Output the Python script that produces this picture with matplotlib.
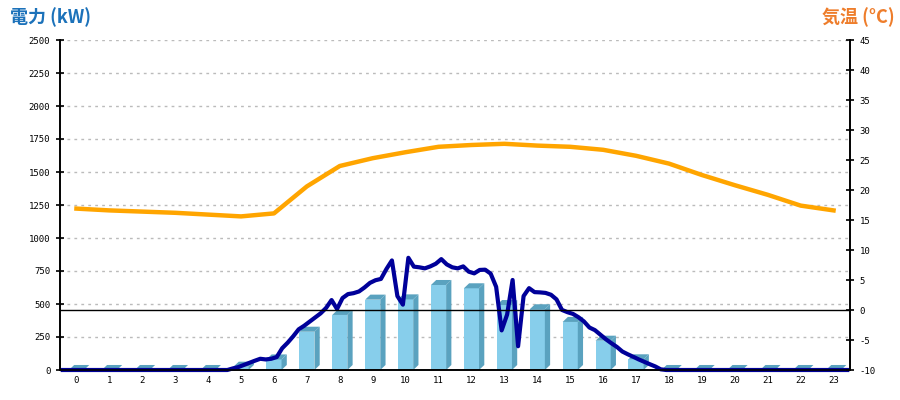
import numpy as np
import matplotlib
matplotlib.use("Agg")
import matplotlib.pyplot as plt
from matplotlib.patches import Polygon

plt.rcParams['axes.unicode_minus'] = False

# hourly categories
hours = list(range(24))
hour_labels = [str(h) for h in hours]

# hourly generation (kW), drawn as 3D bars
power_hourly = [0, 0, 0, 0, 0, 25, 80, 290, 417, 533, 535, 644, 619, 492, 460, 364, 222, 81,
                0, 0, 0, 0, 0, 0]

# hourly temperature (deg C)
temp_hourly = [16.9, 16.6, 16.4, 16.2, 15.9, 15.6, 16.1, 20.6, 24.0, 25.3, 26.3, 27.2,
               27.5, 27.7, 27.4, 27.2, 26.7, 25.7, 24.4, 22.5, 20.8, 19.2, 17.4, 16.6]

# 10-minute generation (kW), 144 samples
power_10min = [0] * 30 + [
    0, 12, 22, 38, 54, 70, 85, 80, 85, 98,
    165, 207, 255, 308, 335, 366, 396, 429, 470, 530,
    462, 545, 575, 582, 595, 625, 660, 680, 690, 765,
    830, 560, 495, 850, 783, 778, 770, 785, 805, 840,
    800, 778, 770, 785, 745, 732, 758, 760, 730, 630,
    300, 420, 682, 180, 560, 620, 590, 588, 584, 570,
    535, 455, 438, 425, 400, 368, 322, 302, 268, 233,
    203, 175, 140, 119, 100, 80, 62, 44, 27, 5,
] + [0] * 34
x_10min = np.arange(len(power_10min)) / 6.0 - 0.5 + 1 / 12

fig = plt.figure(figsize=(9, 4), dpi=100)
ax = fig.add_axes([60 / 900, 30 / 400, 790 / 900, 330 / 400])
ax2 = ax.twinx()

front = '#87CEEB'
shade = '#5AA2BF'
w = 0.46
dx = 0.16
dy = 38

for h, v in zip(hours, power_hourly):
    ax.bar(h, v, width=w, color=front, linewidth=0, zorder=2)
    r = h + w / 2
    l = h - w / 2
    ax.add_patch(Polygon([(r, 0), (r + dx, dy), (r + dx, v + dy), (r, v)],
                         closed=True, facecolor=shade, edgecolor='none', zorder=2))
    ax.add_patch(Polygon([(l, v), (r, v), (r + dx, v + dy), (l + dx, v + dy)],
                         closed=True, facecolor=shade, edgecolor='none', zorder=2))

ax.plot(x_10min, power_10min, color='#000099', lw=3.0, zorder=4, clip_on=False,
        solid_joinstyle='round')

ax2.plot(hours, temp_hourly, color='#FFA500', lw=3.2, zorder=3)
ax2.axhline(0, color='black', lw=1, zorder=2)

ax.set_xlim(-0.5, 23.5)
ax.set_ylim(0, 2500)
ax2.set_ylim(-10, 45)
ax.set_yticks(np.arange(0, 2501, 250))
ax2.set_yticks(np.arange(-10, 46, 5))
ax.set_xticks(hours)
ax.set_xticklabels(hour_labels)

ax.yaxis.grid(True, color='#BBBBBB', linestyle=(0, (2, 3)), lw=1)
ax.set_axisbelow(True)

for a in (ax, ax2):
    a.spines['top'].set_visible(False)
    a.spines['left'].set_linewidth(1.2)
    a.spines['right'].set_linewidth(1.2)
    a.spines['bottom'].set_linewidth(1.2)

ax.tick_params(axis='y', direction='inout', length=6, width=1.2, pad=4,
               labelsize=6.5, labelfontfamily='DejaVu Sans Mono')
ax2.tick_params(axis='y', direction='inout', length=6, width=1.2, pad=4,
                labelsize=6.5, labelfontfamily='DejaVu Sans Mono')
ax.tick_params(axis='x', length=0, pad=4, labelsize=6.5,
               labelfontfamily='DejaVu Sans Mono')

fig.text(10 / 900, 1 - 17 / 400, '電力 (kW)', color='#1C72BA', fontsize=13,
         fontweight='bold', ha='left', va='center',
         family=['Noto Sans CJK JP', 'DejaVu Sans'])
fig.text(895 / 900, 1 - 17 / 400, '気温 (°C)', color='#EE7D2B', fontsize=13,
         fontweight='bold', ha='right', va='center',
         family=['Noto Sans CJK JP', 'DejaVu Sans'])

fig.savefig('out.png', dpi=100)
